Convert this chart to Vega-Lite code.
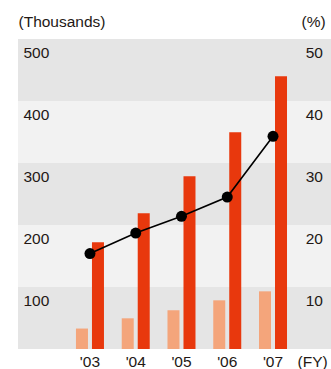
{
  "$schema": "https://vega.github.io/schema/vega-lite/v6.json",
  "width": 313,
  "height": 310,
  "autosize": "none",
  "padding": {"left": 18, "top": 39, "right": 0, "bottom": 20},
  "background": "white",
  "config": {
    "view": {"stroke": null},
    "font": "Liberation Sans",
    "axis": {
      "labelFont": "Liberation Sans",
      "titleFont": "Liberation Sans",
      "labelColor": "#231815",
      "titleColor": "#231815",
      "labelFontSize": 15.5,
      "titleFontSize": 15.5,
      "titleFontWeight": "normal",
      "domain": false,
      "ticks": false,
      "tickSize": 0,
      "grid": false,
      "labelFlush": false,
      "labelOverlap": false,
      "labelBound": false
    }
  },
  "datasets": {
    "bands": [
      {"lo": 0, "hi": 100},
      {"lo": 100, "hi": 200},
      {"lo": 200, "hi": 300},
      {"lo": 300, "hi": 400},
      {"lo": 400, "hi": 500}
    ],
    "bars": [
      {"year": "'03", "series": "light", "value": 33},
      {"year": "'03", "series": "dark", "value": 172},
      {"year": "'04", "series": "light", "value": 49.5},
      {"year": "'04", "series": "dark", "value": 219},
      {"year": "'05", "series": "light", "value": 62.5},
      {"year": "'05", "series": "dark", "value": 278.5},
      {"year": "'06", "series": "light", "value": 78.5},
      {"year": "'06", "series": "dark", "value": 349.5},
      {"year": "'07", "series": "light", "value": 93},
      {"year": "'07", "series": "dark", "value": 440}
    ],
    "line": [
      {"year": "'03", "pct": 15.4},
      {"year": "'04", "pct": 18.7},
      {"year": "'05", "pct": 21.4},
      {"year": "'06", "pct": 24.5},
      {"year": "'07", "pct": 34.3}
    ]
  },
  "layer": [
    {
      "data": {"name": "bands"},
      "mark": {"type": "rect"},
      "encoding": {
        "y": {"field": "lo", "type": "quantitative", "scale": {"domain": [0, 500], "nice": false, "zero": false}, "axis": null},
        "y2": {"field": "hi"},
        "color": {"condition": {"test": "datum.lo % 200 == 0", "value": "#e5e5e5"}, "value": "#f2f2f2"}
      }
    },
    {
      "data": {"name": "bars"},
      "mark": {"type": "bar"},
      "encoding": {
        "x": {
          "field": "year", "type": "nominal",
          "scale": {"type": "band", "paddingInner": 0, "paddingOuter": 0.92, "align": 0.583},
          "axis": {
            "title": "(FY)", "labelAngle": 0, "labelPadding": 17.5, "labelBaseline": "alphabetic",
            "titleX": 279, "titleY": 17.5, "titleAlign": "left", "titleBaseline": "alphabetic", "titleAnchor": "start",
            "zindex": 2
          }
        },
        "xOffset": {"field": "series", "sort": ["light", "dark"], "scale": {"paddingInner": 0.25, "paddingOuter": 0.555}},
        "y": {
          "field": "value", "type": "quantitative",
          "scale": {"domain": [0, 500], "nice": false},
          "axis": {
            "orient": "left", "values": [100, 200, 300, 400, 500],
            "labelAlign": "left", "labelBaseline": "alphabetic", "labelPadding": -5, "labelOffset": 18,
            "title": "(Thousands)", "titleAngle": 0, "titleAlign": "left", "titleBaseline": "alphabetic",
            "titleX": 0, "titleY": -13, "titleAnchor": "start",
            "zindex": 2
          }
        },
        "color": {"field": "series", "type": "nominal", "scale": {"domain": ["light", "dark"], "range": ["#f4a57b", "#e8380d"]}, "legend": null}
      }
    },
    {
      "data": {"name": "line"},
      "mark": {"type": "line", "color": "#000000", "strokeWidth": 1.6, "point": {"filled": true, "size": 121, "color": "#000000", "opacity": 1}},
      "encoding": {
        "x": {"field": "year", "type": "nominal"},
        "y": {
          "field": "pct", "type": "quantitative",
          "scale": {"domain": [0, 50], "nice": false},
          "axis": {
            "orient": "right", "values": [10, 20, 30, 40, 50],
            "labelAlign": "right", "labelBaseline": "alphabetic", "labelPadding": -8.5, "labelOffset": 18,
            "title": "(%)", "titleAngle": 0, "titleAlign": "left", "titleBaseline": "alphabetic",
            "titleX": -30, "titleY": -13, "titleAnchor": "start",
            "zindex": 2
          }
        }
      }
    }
  ],
  "resolve": {"scale": {"y": "independent"}}
}
